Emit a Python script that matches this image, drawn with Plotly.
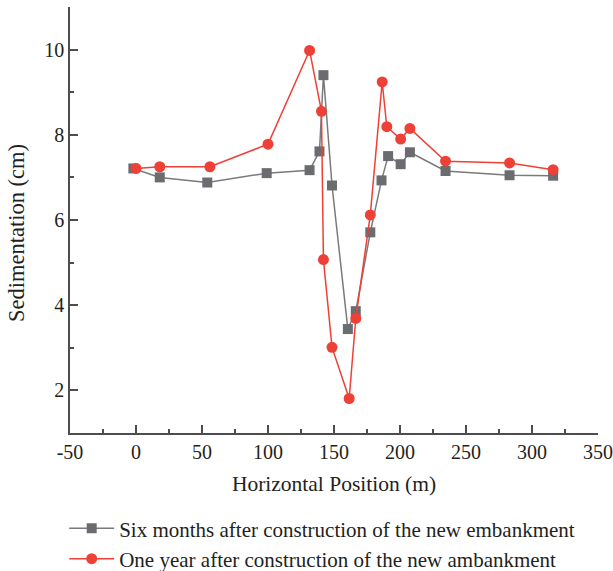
import plotly.graph_objects as go

# Horizontal positions (m) and sedimentation (cm) for each survey
x_six_months = [-2, 18, 54, 99, 131.5, 139, 142, 148.5, 160.5, 166.5, 177.5, 186, 191, 200.5, 207.5, 234.5, 283, 316]
y_six_months = [7.21, 7.00, 6.88, 7.10, 7.17, 7.61, 9.40, 6.81, 3.44, 3.86, 5.71, 6.93, 7.50, 7.31, 7.59, 7.15, 7.05, 7.04]

x_one_year = [0, 18, 56, 100, 131.5, 140.5, 142, 148.5, 161.5, 166.5, 177.5, 186.5, 190, 200.5, 207.5, 234.5, 283, 316]
y_one_year = [7.21, 7.25, 7.25, 7.78, 9.98, 8.55, 5.07, 3.01, 1.81, 3.69, 6.12, 9.24, 8.19, 7.90, 8.15, 7.38, 7.34, 7.18]

x_ticks = [-50, 0, 50, 100, 150, 200, 250, 300, 350]
y_ticks = [2, 4, 6, 8, 10]

GRAY = "#6b6c70"
RED = "#ee4036"
FONT = "Liberation Serif"
TEXT = "#231f20"
AXIS = "#4d4d4d"

fig = go.Figure()
fig.add_trace(go.Scatter(
    x=x_six_months, y=y_six_months, mode="lines+markers",
    name="Six months after construction of the new embankment",
    line=dict(color="#7a7a7c", width=1.5),
    marker=dict(symbol="square", size=10, color=GRAY),
))
fig.add_trace(go.Scatter(
    x=x_one_year, y=y_one_year, mode="lines+markers",
    name="One year after construction of the new ambankment",
    line=dict(color=RED, width=1.5),
    marker=dict(symbol="circle", size=11, color=RED),
))

axis_common = dict(
    showgrid=False, zeroline=False, showline=True, linecolor=AXIS, linewidth=1.5,
    ticks="inside", ticklen=8, tickwidth=1.5, tickcolor=AXIS,
    tickfont=dict(family=FONT, size=20, color=TEXT),
    automargin=False,
)

fig.update_xaxes(
    range=[-50, 350], tickvals=x_ticks, ticktext=[str(v) for v in x_ticks],
    minor=dict(ticks="inside", ticklen=4, tickwidth=1.5, tickcolor=AXIS, dtick=25),
    title=dict(text="Horizontal Position (m)", font=dict(family=FONT, size=21.5, color=TEXT), standoff=14),
    **axis_common,
)
fig.update_yaxes(
    range=[1, 11], tickvals=y_ticks, ticktext=[str(v) for v in y_ticks],
    minor=dict(ticks="inside", ticklen=4, tickwidth=1.5, tickcolor=AXIS, dtick=1),
    **axis_common,
)

# Vertical axis title, placed as a rotated annotation
fig.add_annotation(
    text="Sedimentation (cm)", textangle=-90,
    xref="paper", yref="paper", x=-0.1, y=0.47, xanchor="center", yanchor="middle",
    showarrow=False, font=dict(family=FONT, size=22.5, color=TEXT),
)

fig.update_layout(
    width=613, height=571,
    margin=dict(l=70, r=15, t=7, b=138),
    plot_bgcolor="white", paper_bgcolor="white",
    showlegend=True,
    legend=dict(
        x=-0.011, xanchor="left", y=0.11, yanchor="top", yref="container",
        font=dict(family=FONT, size=21, color=TEXT),
        bgcolor="rgba(0,0,0,0)", tracegroupgap=0, itemwidth=45,
    ),
)

fig.write_html("out.html")
